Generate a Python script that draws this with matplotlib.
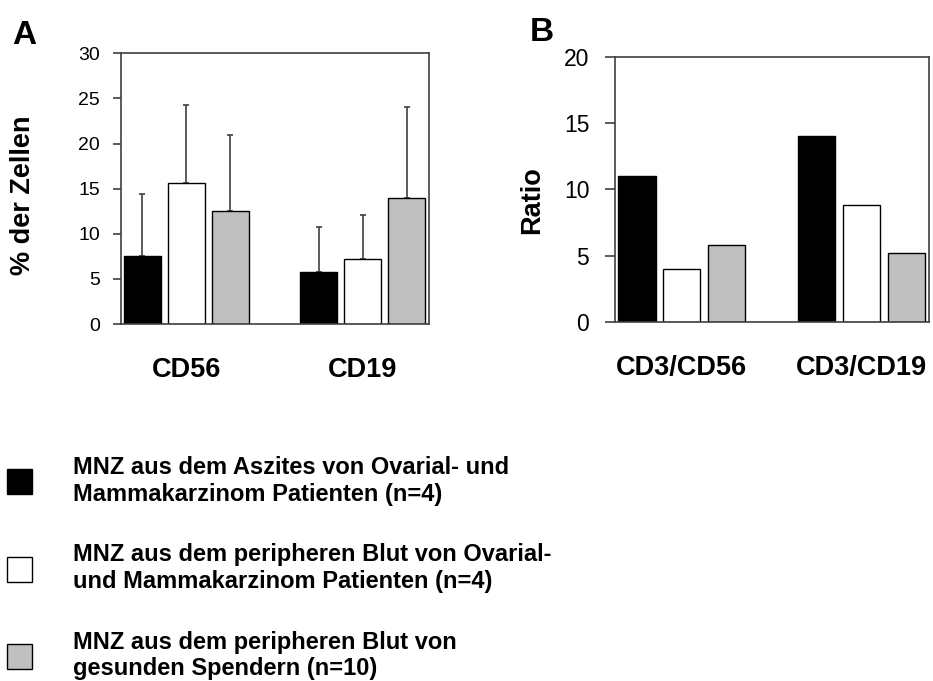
import matplotlib
matplotlib.use("Agg")
import matplotlib.pyplot as plt
import numpy as np

plt.rcParams['font.family'] = ['Liberation Sans', 'DejaVu Sans']

# panel A: % der Zellen, mean + upper SD
cats_a = ["CD56", "CD19"]
aszites_a = [7.5, 5.8]
blut_pat_a = [15.6, 7.2]
gesund_a = [12.5, 14.0]
err_aszites = [6.9, 4.9]
err_blut_pat = [8.7, 4.9]
err_gesund = [8.5, 10.0]

# panel B: Ratio
cats_b = ["CD3/CD56", "CD3/CD19"]
aszites_b = [11.0, 14.0]
blut_pat_b = [4.0, 8.8]
gesund_b = [5.8, 5.2]

labels = ["MNZ aus dem Aszites von Ovarial- und\nMammakarzinom Patienten (n=4)",
          "MNZ aus dem peripheren Blut von Ovarial-\nund Mammakarzinom Patienten (n=4)",
          "MNZ aus dem peripheren Blut von\ngesunden Spendern (n=10)"]
colors = ["black", "white", "#c0c0c0"]
frame = "#404040"

fig = plt.figure(figsize=(9.33, 6.81), dpi=100)
ax1 = fig.add_axes([0.1297, 0.5242, 0.3301, 0.3975])
ax2 = fig.add_axes([0.6592, 0.5272, 0.3365, 0.3896])

x = np.arange(2)
step = 0.25
w = 0.21

series_a = [aszites_a, blut_pat_a, gesund_a]
errs_a = [err_aszites, err_blut_pat, err_gesund]
handles = []
for i in range(3):
    pos = x + (i - 1) * step
    b = ax1.bar(pos, series_a[i], width=w, color=colors[i], edgecolor="black", linewidth=1, zorder=2)
    handles.append(b)
    ax1.errorbar(pos, series_a[i], yerr=[np.zeros(2), errs_a[i]], fmt="none",
                 ecolor=frame, elinewidth=1.2, capsize=2.5, capthick=1.2, zorder=1)

series_b = [aszites_b, blut_pat_b, gesund_b]
for i in range(3):
    pos = x + (i - 1) * step
    ax2.bar(pos, series_b[i], width=w, color=colors[i], edgecolor="black", linewidth=1, zorder=2)

for ax in (ax1, ax2):
    ax.set_xlim(-0.37, 1.375)
    for s in ax.spines.values():
        s.set_color(frame)
        s.set_linewidth(1.2)
    ax.set_xticks(x)
    ax.tick_params(axis="x", length=0, pad=24, labelsize=19.5)

ax1.set_xticklabels(cats_a, fontweight="bold")
ax2.set_xticklabels(cats_b, fontweight="bold")

ax1.set_ylim(0, 30)
ax1.set_yticks(range(0, 31, 5))
ax1.tick_params(axis="y", length=6, width=1.2, color=frame, pad=9, labelsize=14)
ax2.set_ylim(0, 20)
ax2.set_yticks(range(0, 21, 5))
ax2.tick_params(axis="y", length=7.5, width=1.2, color=frame, pad=11, labelsize=16.5)

fig.text(23 / 933, 1 - 195 / 681, "% der Zellen", rotation=90, ha="center", va="center",
         fontsize=19.5, fontweight="bold")
fig.text(532 / 933, 1 - 200 / 681, "Ratio", rotation=90, ha="center", va="center",
         fontsize=19.5, fontweight="bold")

fig.text(12 / 933, 1 - 44 / 681, "A", fontsize=24, fontweight="bold", ha="left", va="baseline")
fig.text(530 / 933, 1 - 41 / 681, "B", fontsize=24, fontweight="bold", ha="left", va="baseline")

leg = fig.legend(handles, labels, loc="upper left", bbox_to_anchor=(7 / 933, 1 - 456 / 681),
                 frameon=False, borderpad=0, borderaxespad=0, handlelength=1.05, handleheight=1.25,
                 handletextpad=1.75, labelspacing=1.6, prop={"size": 17, "weight": "bold"})

fig.savefig("out.png", dpi=100)
